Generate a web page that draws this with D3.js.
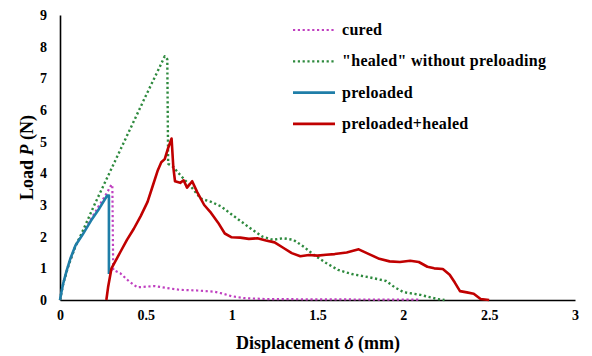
<!DOCTYPE html>
<html>
<head>
<meta charset="utf-8">
<script src="https://cdn.jsdelivr.net/npm/d3@7"></script>
<style>
  body { margin: 0; background: #fff; }
</style>
</head>
<body>
<script>
//Width and height
var w = 592;
var h = 356;
var margin = { top: 15, right: 17, bottom: 56, left: 60 };
var serif = "'Liberation Serif', 'Times New Roman', serif";

// tick values
var xTicks = [0, 0.5, 1, 1.5, 2, 2.5, 3];
var yTicks = [0, 1, 2, 3, 4, 5, 6, 7, 8, 9];

var seriesNames = ["cured", "\"healed\" without preloading", "preloaded", "preloaded+healed"];

// [displacement mm, load N]
var cured = [
  [0, 0], [0.02, 0.55], [0.05, 1.1], [0.09, 1.7], [0.13, 2.1], [0.18, 2.55],
  [0.23, 3.0], [0.27, 3.35], [0.3, 3.65], [0.305, 3.6], [0.31, 0.95], [0.35, 0.85],
  [0.4, 0.6], [0.45, 0.4], [0.5, 0.42], [0.55, 0.44], [0.62, 0.38], [0.7, 0.32],
  [0.8, 0.3], [0.9, 0.26], [0.95, 0.2], [1.0, 0.12], [1.07, 0.06], [1.2, 0.03],
  [1.5, 0.02], [2.1, 0.01]
];

var healed = [
  [0, 0], [0.02, 0.55], [0.05, 1.1], [0.09, 1.7], [0.13, 2.15], [0.2, 3.0],
  [0.3, 4.15], [0.4, 5.3], [0.5, 6.45], [0.58, 7.35], [0.61, 7.7], [0.625, 7.6],
  [0.63, 4.3], [0.66, 4.2], [0.7, 3.95], [0.76, 3.6], [0.82, 3.2], [0.88, 3.1],
  [0.94, 2.95], [1.0, 2.7], [1.1, 2.3], [1.18, 2.0], [1.24, 1.9], [1.3, 1.95],
  [1.36, 1.9], [1.42, 1.68], [1.48, 1.42], [1.55, 1.17], [1.62, 0.95], [1.7, 0.82],
  [1.8, 0.72], [1.9, 0.6], [1.95, 0.4], [2.0, 0.25], [2.1, 0.16], [2.2, 0.03], [2.24, 0]
];

var preloaded = [
  [0, 0], [0.01, 0.3], [0.02, 0.55], [0.04, 0.95], [0.06, 1.3], [0.09, 1.72],
  [0.13, 2.05], [0.18, 2.5], [0.23, 2.9], [0.275, 3.3], [0.285, 3.3], [0.285, 0.82]
];

var preHealed = [
  [0.27, 0], [0.28, 0.4], [0.3, 1.0], [0.35, 1.5], [0.39, 1.9], [0.43, 2.25],
  [0.47, 2.65], [0.51, 3.1], [0.54, 3.6], [0.57, 4.1], [0.59, 4.35], [0.61, 4.45],
  [0.63, 4.8], [0.65, 5.1], [0.66, 4.2], [0.67, 3.75], [0.7, 3.7], [0.72, 3.78],
  [0.74, 3.55], [0.77, 3.75], [0.8, 3.4], [0.84, 3.0], [0.88, 2.75], [0.92, 2.45],
  [0.96, 2.1], [1.0, 1.98], [1.05, 1.97], [1.1, 1.93], [1.15, 1.95], [1.2, 1.88],
  [1.25, 1.82], [1.3, 1.65], [1.35, 1.48], [1.4, 1.38], [1.45, 1.42], [1.5, 1.4],
  [1.55, 1.43], [1.6, 1.45], [1.67, 1.5], [1.74, 1.6], [1.8, 1.45], [1.86, 1.3],
  [1.92, 1.22], [1.98, 1.2], [2.04, 1.24], [2.09, 1.2], [2.14, 1.05], [2.18, 1.0],
  [2.23, 0.98], [2.27, 0.8], [2.3, 0.55], [2.33, 0.28], [2.37, 0.24], [2.41, 0.2],
  [2.45, 0.03], [2.5, 0]
];

var series = [
  { name: seriesNames[0], values: cured, color: "#c040c0", dash: "2.2,2.6", width: 2.2 },
  { name: seriesNames[1], values: healed, color: "#2e8a3e", dash: "2.2,2.6", width: 2.4 },
  { name: seriesNames[2], values: preloaded, color: "#1f7ea8", dash: null, width: 2.6 },
  { name: seriesNames[3], values: preHealed, color: "#c00000", dash: null, width: 2.6 }
];

var xScale = d3.scaleLinear().domain([0, 3]).range([margin.left, w - margin.right]);
var yScale = d3.scaleLinear().domain([0, 9]).range([h - margin.bottom, margin.top]);

//Create SVG element
var svg = d3.select("body").append("svg").attr("width", w).attr("height", h);

// axes
var xAxis = d3.axisBottom(xScale).tickValues(xTicks).tickSize(0).tickPadding(10)
  .tickFormat(function (d) { return d; });
var yAxis = d3.axisLeft(yScale).tickValues(yTicks).tickSize(0).tickPadding(13);

var gx = svg.append("g")
  .attr("transform", "translate(0," + (h - margin.bottom) + ")")
  .call(xAxis);
var gy = svg.append("g")
  .attr("transform", "translate(" + margin.left + ",0)")
  .call(yAxis);

[gx, gy].forEach(function (g) {
  g.attr("font-family", serif).attr("font-size", 14).attr("font-weight", "bold");
  g.select(".domain").attr("stroke", "#000").attr("stroke-width", 1.6);
  g.selectAll("text").attr("fill", "#000");
});

// lines
var line = d3.line()
  .x(function (d) { return xScale(d[0]); })
  .y(function (d) { return yScale(d[1]); });

svg.selectAll("path.series")
  .data(series)
  .enter()
  .append("path")
  .attr("class", "series")
  .attr("d", function (d) { return line(d.values); })
  .attr("fill", "none")
  .attr("stroke", function (d) { return d.color; })
  .attr("stroke-width", function (d) { return d.width; })
  .attr("stroke-dasharray", function (d) { return d.dash; })
  .attr("stroke-linejoin", "round");

// legend
var legend = svg.selectAll("g.legend")
  .data(series)
  .enter()
  .append("g")
  .attr("class", "legend")
  .attr("transform", function (d, i) { return "translate(293," + (30 + i * 31.3) + ")"; });

legend.append("line")
  .attr("x1", 0)
  .attr("x2", 42)
  .attr("y1", 0)
  .attr("y2", 0)
  .attr("stroke", function (d) { return d.color; })
  .attr("stroke-width", function (d) { return d.dash ? 2.2 : 2.6; })
  .attr("stroke-dasharray", function (d) { return d.dash; });

legend.append("text")
  .attr("x", 49)
  .attr("y", 5)
  .attr("font-family", serif)
  .attr("font-weight", "bold")
  .attr("font-size", 16)
  .attr("letter-spacing", "0.3px")
  .attr("fill", "#000")
  .text(function (d) { return d.name; });

// axis titles
var xTitle = svg.append("text")
  .attr("x", 318)
  .attr("y", 349)
  .attr("text-anchor", "middle")
  .attr("font-family", serif)
  .attr("font-weight", "bold")
  .attr("font-size", 18);
xTitle.append("tspan").text("Displacement ");
xTitle.append("tspan").attr("font-style", "italic").text("δ");
xTitle.append("tspan").text(" (mm)");

var yTitle = svg.append("text")
  .attr("transform", "translate(33," + yScale(4.5) + ") rotate(-90)")
  .attr("text-anchor", "middle")
  .attr("font-family", serif)
  .attr("font-weight", "bold")
  .attr("font-size", 18);
yTitle.append("tspan").text("Load ");
yTitle.append("tspan").attr("font-style", "italic").text("P");
yTitle.append("tspan").text(" (N)");
</script>
</body>
</html>
